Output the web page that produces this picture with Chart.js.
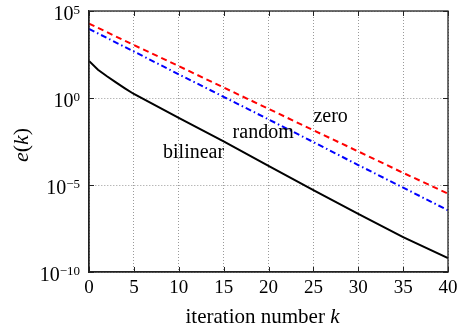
<!DOCTYPE html>
<html>
<head>
<meta charset="utf-8">
<script src="https://cdn.jsdelivr.net/npm/chart.js@4.4.0/dist/chart.umd.min.js"></script>
<style>
  body { margin: 0; background: #fff; }
  #box { width: 457px; height: 333px; }
</style>
</head>
<body>
<div id="box"><canvas id="errGraph" width="457" height="333"></canvas></div>
<script>
// iteration numbers and error e(k)
const kZero = [0, 5, 10, 15, 20, 25, 30, 35, 40];
const errZero = [1.9e4, 1.1e3, 68, 4.0, 0.24, 1.4e-2, 8.5e-4, 5.0e-5, 3.2e-6];

const kRandom = [0, 5, 10, 15, 20, 25, 30, 35, 40];
const errRandom = [9.3e3, 470, 23, 1.17, 0.059, 2.95e-3, 1.4e-4, 7.1e-6, 3.5e-7];

const kBilinear = [0, 1, 2, 3, 4, 5, 10, 15, 20, 25, 30, 35, 40];
const errBilinear = [135, 42, 17.8, 7.9, 3.6, 1.7, 0.071, 3.2e-3, 1.26e-4, 5.0e-6, 2.2e-7, 1.0e-8, 6.3e-10];

// axis ticks
const xTicks = [0, 5, 10, 15, 20, 25, 30, 35, 40];
const yTicks = [1e-10, 1e-5, 1, 1e5];
const yTickExp = ['\u221210', '\u22125', '0', '5'];

// curve labels, placed in data units (k, e)
const curveNames = ['zero', 'random', 'bilinear'];
const nameK = [25, 16, 8.25];
const nameE = [0.042, 5.0e-3, 3.5e-4];

const serif = '"Liberation Serif", "Times New Roman", serif';

const toPoints = (xs, ys) => xs.map((x, i) => ({x: x, y: ys[i]}));

//Eixos, rótulos e textos desenhados à mão
const decorPlugin = {
    id: 'decor',
    afterDatasetsDraw(chart) {
        const ctx = chart.ctx;
        const xs = chart.scales.x, ys = chart.scales.y;
        ctx.save();
        ctx.fillStyle = '#000';
        ctx.font = '20px ' + serif;
        ctx.textAlign = 'left';
        ctx.textBaseline = 'alphabetic';
        curveNames.forEach((n, i) => {
            ctx.fillText(n, xs.getPixelForValue(nameK[i]), ys.getPixelForValue(nameE[i]));
        });
        ctx.restore();
    },
    afterDraw(chart) {
        const ctx = chart.ctx;
        const a = chart.chartArea;
        const xs = chart.scales.x, ys = chart.scales.y;
        ctx.save();

        // box and inward ticks
        ctx.strokeStyle = '#222';
        ctx.lineWidth = 1.3;
        ctx.strokeRect(a.left, a.top, a.right - a.left, a.bottom - a.top);
        ctx.lineWidth = 1;
        ctx.beginPath();
        xTicks.forEach(v => {
            const px = Math.round(xs.getPixelForValue(v)) + 0.5;
            ctx.moveTo(px, a.bottom); ctx.lineTo(px, a.bottom - 5);
            ctx.moveTo(px, a.top); ctx.lineTo(px, a.top + 5);
        });
        yTicks.forEach(v => {
            const py = Math.round(ys.getPixelForValue(v)) + 0.5;
            ctx.moveTo(a.left, py); ctx.lineTo(a.left + 5, py);
            ctx.moveTo(a.right, py); ctx.lineTo(a.right - 5, py);
        });
        ctx.stroke();

        // x tick labels
        ctx.fillStyle = '#000';
        ctx.font = '19px ' + serif;
        ctx.textAlign = 'center';
        ctx.textBaseline = 'alphabetic';
        xTicks.forEach(v => {
            ctx.fillText(String(v), xs.getPixelForValue(v), a.bottom + 21);
        });

        // y tick labels 10^n
        ctx.textAlign = 'right';
        yTicks.forEach((v, i) => {
            const py = ys.getPixelForValue(v);
            ctx.font = '13px ' + serif;
            const w = ctx.measureText(yTickExp[i]).width;
            ctx.fillText(yTickExp[i], a.left - 9, py + 3);
            ctx.font = '20px ' + serif;
            ctx.fillText('10', a.left - 9 - w, py + 9);
        });

        // x title: iteration number k
        const xParts = [['iteration number ', ''], ['k', 'italic ']];
        ctx.textAlign = 'left';
        let total = 0;
        xParts.forEach(p => { ctx.font = p[1] + '21px ' + serif; total += ctx.measureText(p[0]).width; });
        let cx = (a.left + a.right) / 2 - 6 - total / 2;
        xParts.forEach(p => {
            ctx.font = p[1] + '21px ' + serif;
            ctx.fillText(p[0], cx, 323);
            cx += ctx.measureText(p[0]).width;
        });

        // y title: e(k)
        const yParts = [['e', 'italic '], ['(', ''], ['k', 'italic '], [')', '']];
        ctx.translate(28, 145);
        ctx.rotate(-Math.PI / 2);
        total = 0;
        yParts.forEach(p => { ctx.font = p[1] + '22px ' + serif; total += ctx.measureText(p[0]).width; });
        cx = -total / 2;
        yParts.forEach(p => {
            ctx.font = p[1] + '22px ' + serif;
            ctx.fillText(p[0], cx, 0);
            cx += ctx.measureText(p[0]).width;
        });
        ctx.restore();
    }
};

const ctx = document.getElementById('errGraph').getContext('2d');

const errGraph = new Chart(ctx, {
    type: 'line',
    data: {
        datasets: [{
            label: 'zero',
            data: toPoints(kZero, errZero),
            borderColor: '#ff0000',
            borderWidth: 2,
            borderDash: [6, 4]
        }, {
            label: 'random',
            data: toPoints(kRandom, errRandom),
            borderColor: '#0000ff',
            borderWidth: 2,
            borderDash: [6, 3, 1.5, 3]
        }, {
            label: 'bilinear',
            data: toPoints(kBilinear, errBilinear),
            borderColor: '#000000',
            borderWidth: 2
        }]
    },
    options: {
        responsive: false,
        animation: false,
        events: [],
        layout: { padding: { left: 0, top: 11, right: 9, bottom: 0 } },
        elements: { point: { radius: 0 }, line: { tension: 0, fill: false } },
        plugins: { legend: { display: false }, tooltip: { enabled: false } },
        scales: {
            x: {
                type: 'linear',
                min: 0,
                max: 40,
                afterBuildTicks: s => { s.ticks = xTicks.map(v => ({value: v})); },
                afterFit: s => { s.height = 61; },
                ticks: { display: false },
                grid: { color: '#9a9a9a', lineWidth: 1, drawTicks: false },
                border: { color: '#222', width: 1.3, dash: [1, 2] }
            },
            y: {
                type: 'logarithmic',
                min: 1e-10,
                max: 1e5,
                afterBuildTicks: s => { s.ticks = yTicks.map(v => ({value: v})); },
                afterFit: s => { s.width = 89; },
                ticks: { display: false },
                grid: { color: '#9a9a9a', lineWidth: 1, drawTicks: false },
                border: { color: '#222', width: 1.3, dash: [1, 2] }
            }
        }
    },
    plugins: [decorPlugin]
});
</script>
</body>
</html>
